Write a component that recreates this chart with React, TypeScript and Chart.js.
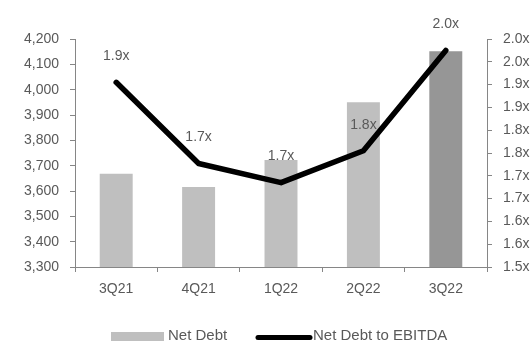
import React, { useEffect, useRef } from "react";
import { Chart, registerables } from "chart.js";

Chart.register(...registerables);

const categories = ["3Q21", "4Q21", "1Q22", "2Q22", "3Q22"];
const netDebt = [3668, 3616, 3722, 3950, 4152];
const netDebtToEbitda = [1.905, 1.727, 1.685, 1.755, 1.975];
const ratioLabels = ["1.9x", "1.7x", "1.7x", "1.8x", "2.0x"];
const debtTicks = [3300, 3400, 3500, 3600, 3700, 3800, 3900, 4000, 4100, 4200];
const ratioTicks = [1.5, 1.55, 1.6, 1.65, 1.7, 1.75, 1.8, 1.85, 1.9, 1.95, 2.0];
const barColors = ["#bfbfbf", "#bfbfbf", "#bfbfbf", "#bfbfbf", "#969696"];

const FONT = "'Liberation Sans', Arial, sans-serif";
const TEXT = "#595959";
const AXIS = "#868686";

const labelPlugin = {
  id: "ratioLabels",
  afterDatasetsDraw(chart: any) {
    const ctx = chart.ctx;
    const meta = chart.getDatasetMeta(1);
    ctx.save();
    ctx.font = `14px ${FONT}`;
    ctx.fillStyle = TEXT;
    ctx.textAlign = "center";
    ctx.textBaseline = "middle";
    meta.data.forEach((pt: any, i: number) => {
      ctx.fillText(ratioLabels[i], pt.x, pt.y - 26);
    });
    ctx.restore();
  },
  afterDraw(chart: any) {
    const ctx = chart.ctx;
    const ds = chart.data.datasets;
    ctx.save();
    ctx.font = `15px ${FONT}`;
    ctx.textBaseline = "alphabetic";
    // bar swatch
    ctx.fillStyle = "#bfbfbf";
    ctx.fillRect(111, 332, 53, 12);
    ctx.fillStyle = TEXT;
    ctx.fillText(ds[0].label, 168, 339.5);
    // line swatch
    ctx.strokeStyle = "#000";
    ctx.lineWidth = 5;
    ctx.lineCap = "round";
    ctx.beginPath();
    ctx.moveTo(258, 337.5);
    ctx.lineTo(310, 337.5);
    ctx.stroke();
    ctx.fillText(ds[1].label, 313, 339.5);
    ctx.restore();
  },
};

export default function App() {
  const ref = useRef<HTMLCanvasElement>(null);
  useEffect(() => {
    if (!ref.current) return;
    const chart = new Chart(ref.current, {
      type: "bar",
      data: {
        labels: categories,
        datasets: [
          {
            type: "bar",
            label: "Net Debt",
            data: netDebt,
            backgroundColor: barColors,
            barPercentage: 0.4,
            categoryPercentage: 1,
            yAxisID: "y",
            order: 2,
          },
          {
            type: "line",
            label: "Net Debt to EBITDA",
            data: netDebtToEbitda,
            borderColor: "#000",
            backgroundColor: "#000",
            borderWidth: 5.5,
            pointRadius: 0,
            borderCapStyle: "round",
            borderJoinStyle: "round",
            tension: 0,
            yAxisID: "y1",
            order: 1,
          },
        ],
      } as any,
      options: {
        responsive: false,
        animation: false,
        layout: { padding: { left: 0, right: 0, top: 39, bottom: 0 } },
        plugins: { legend: { display: false }, tooltip: { enabled: false } },
        scales: {
          x: {
            offset: true,
            grid: {
              offset: true,
              drawOnChartArea: false,
              drawTicks: true,
              tickLength: 5,
              color: AXIS,
            },
            border: { display: true, color: AXIS, width: 1 },
            ticks: { color: TEXT, font: { family: FONT, size: 14 }, padding: 9 },
            afterFit: (axis: any) => {
              axis.height = 74;
            },
          },
          y: {
            position: "left",
            min: 3300,
            max: 4200,
            afterBuildTicks: (axis: any) => {
              axis.ticks = debtTicks.map((v) => ({ value: v }));
            },
            grid: { drawOnChartArea: false, drawTicks: true, tickLength: 5, color: AXIS },
            border: { display: true, color: AXIS, width: 1 },
            ticks: {
              color: TEXT,
              font: { family: FONT, size: 14 },
              padding: 11,
              callback: (v: any) => Number(v).toLocaleString("en-US"),
            },
            afterFit: (axis: any) => {
              axis.width = 75;
            },
          },
          y1: {
            position: "right",
            min: 1.5,
            max: 2.0,
            afterBuildTicks: (axis: any) => {
              axis.ticks = ratioTicks.map((v) => ({ value: v }));
            },
            grid: { drawOnChartArea: false, drawTicks: true, tickLength: 5, color: AXIS },
            border: { display: true, color: AXIS, width: 1 },
            ticks: {
              color: TEXT,
              font: { family: FONT, size: 14 },
              padding: 11,
              callback: (v: any) => (Math.round(Number(v) * 10 + 1e-6) / 10).toFixed(1) + "x",
            },
            afterFit: (axis: any) => {
              axis.width = 45;
            },
          },
        },
      } as any,
      plugins: [labelPlugin],
    });
    return () => chart.destroy();
  }, []);
  return (
    <div style={{ position: "absolute", left: 0, top: 0, width: 532, height: 341, background: "#fff" }}>
      <canvas ref={ref} width={532} height={341} />
    </div>
  );
}
